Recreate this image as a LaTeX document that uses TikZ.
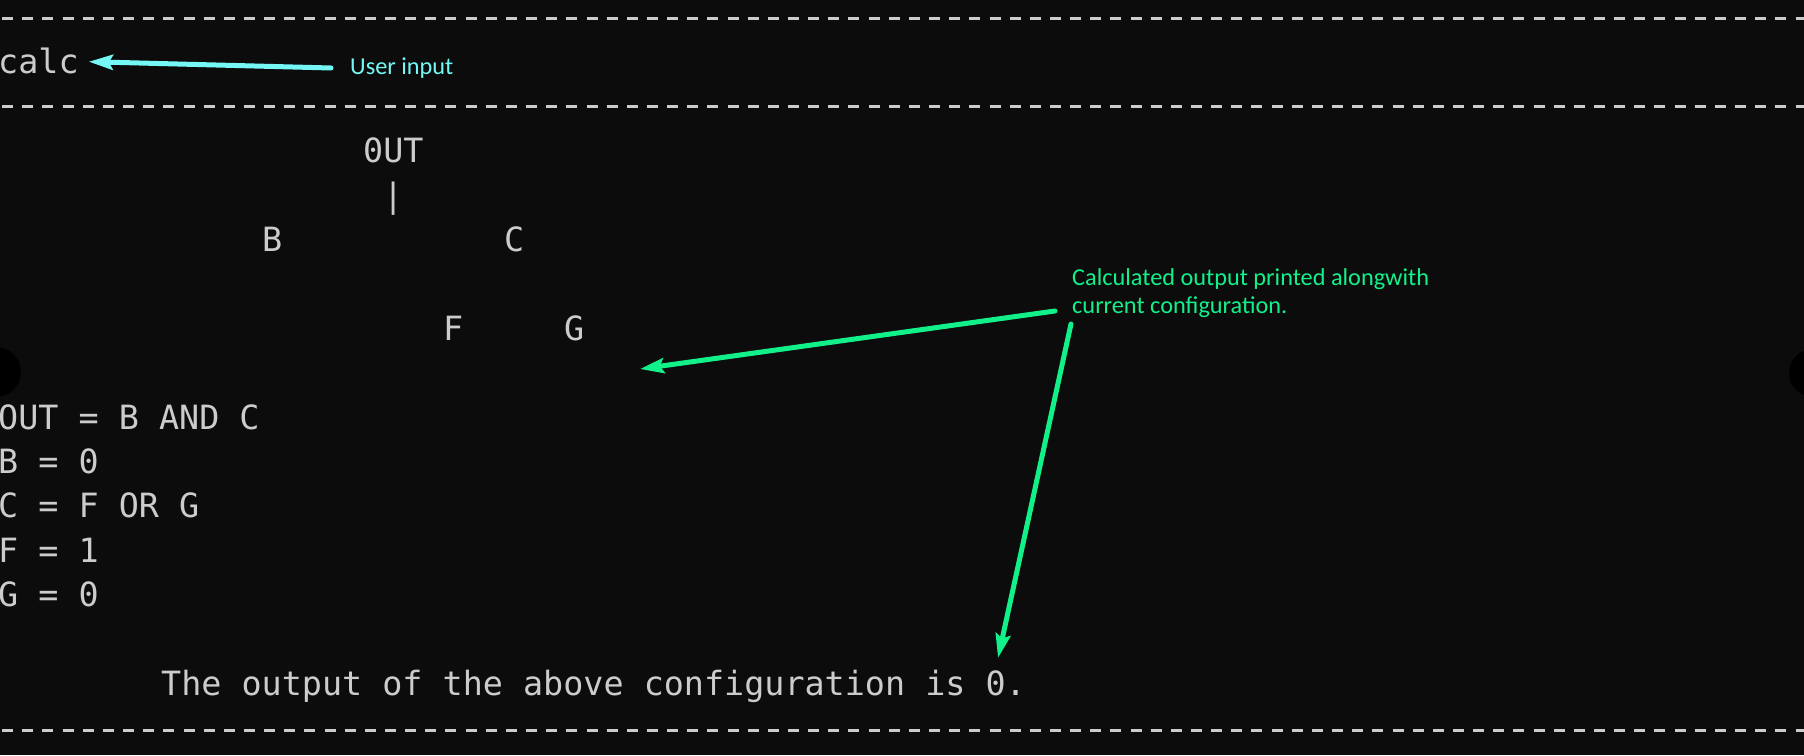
\documentclass[tikz,border=0pt]{standalone}
\usepackage{fontspec}
\setmonofont{DejaVu Sans Mono}
\newfontfamily\notefont{Carlito}
\usetikzlibrary{arrows.meta}
\definecolor{termbg}{HTML}{0C0C0C}
\definecolor{termfg}{HTML}{CCCCCC}
\definecolor{notecyan}{HTML}{74F7F5}
\definecolor{notegreen}{HTML}{12F08A}
\begin{document}
\begin{tikzpicture}[x=1pt, y=1pt,
	term/.style={inner sep=0pt, anchor=west, text=termfg, font=\fontsize{33.4}{40}\selectfont\ttfamily, text height=24.3pt, text depth=0pt},
	rule/.style={termfg, line width=3pt, dash pattern=on 11pt off 9.15pt, dash phase=18pt},
	note/.style={inner sep=0pt, anchor=base west, font=\fontsize{24.3}{28}\selectfont\notefont},
	pointer/.style={line width=5pt, line cap=round, -{Stealth[length=24pt, width=15pt, inset=4pt]}}]
	\clip (0,0) rectangle (1804,755);
	\fill[termbg] (0,0) rectangle (1804,755);
	\fill[black] (-4,383) circle (25);
	\fill[black] (1813,382) circle (24);
	\draw[rule] (0,736.7) -- (1804,736.7);
	\draw[rule] (0,648) -- (1804,648);
	\draw[rule] (0,25) -- (1804,25);
	\node[term] (calc) at (-2,693.3) {calc};
	\node[term] (root) at (363,604.5) {0UT};
	\node[term] (bar) at (383,560.1) {|};
	\node[term] (b) at (262,515.7) {B};
	\node[term] (c) at (504,515.7) {C};
	\node[term] (f) at (443,426.9) {F};
	\node[term] (g) at (564,426.9) {G};
	\node[term] (outeq) at (-2,338.1) {OUT = B AND C};
	\node[term] (beq) at (-2,293.7) {B = 0};
	\node[term] (ceq) at (-2,249.3) {C = F OR G};
	\node[term] (feq) at (-2,204.9) {F = 1};
	\node[term] (geq) at (-2,160.5) {G = 0};
	\node[term] (result) at (161,71.7) {The output of the above configuration is 0.};
	\node[note, text=notecyan] (user) at (350,680) {User input};
	\node[note, text=notegreen] (note) at (1072,469) {Calculated output printed alongwith};
	\node[note, text=notegreen] (notecont) at (1072,441) {current configuration.};
	\coordinate (usertail) at (331,687);
	\coordinate (treetail) at (1055,444);
	\coordinate (treetip) at (640,386);
	\coordinate (restail) at (1071,431);
	\coordinate (restip) at (998,97);
	\draw[pointer, notecyan] (usertail) -- ([xshift=10pt]calc.east);
	\draw[pointer, notegreen] (treetail) -- (treetip);
	\draw[pointer, notegreen] (restail) -- (restip);
\end{tikzpicture}
\end{document}
